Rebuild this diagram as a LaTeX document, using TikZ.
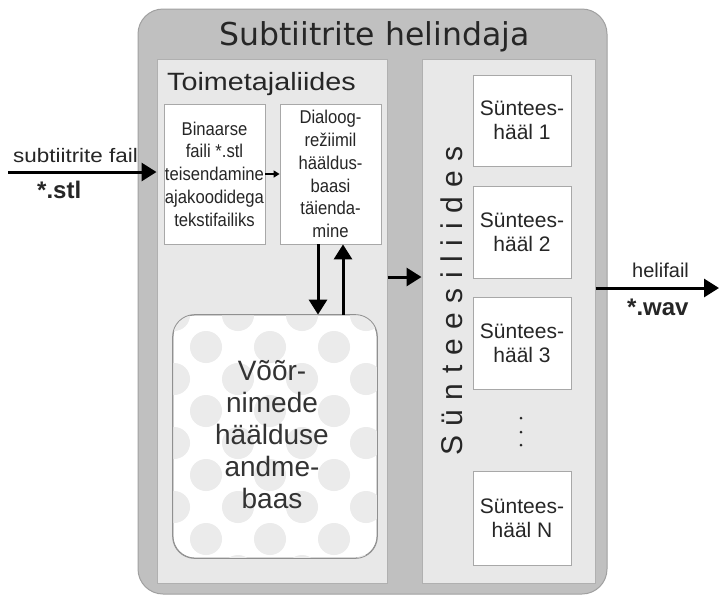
\documentclass[tikz,border=0pt]{standalone}
\usepackage{fontspec}
\setmainfont{Liberation Sans}
\newfontfamily\widefont[FakeStretch=1.15]{Liberation Sans}
\newfontfamily\narrowfont[FakeStretch=0.9]{Liberation Sans}
\newfontfamily\titlefont{DejaVu Sans}
\newfontfamily\spacedfont[LetterSpace=32]{Liberation Sans}
\usetikzlibrary{arrows.meta}
\definecolor{outerfill}{HTML}{C0C0C0}
\definecolor{outerline}{HTML}{A0A0A0}
\definecolor{panelfill}{HTML}{E8E8E8}
\definecolor{panelline}{HTML}{B0B0B0}
\definecolor{boxline}{HTML}{A8A8A8}
\definecolor{dotcol}{HTML}{EBEBEB}
\definecolor{dbline}{HTML}{909090}
\definecolor{txt}{HTML}{262626}
\tikzset{
  outerbox/.style={draw=outerline, line width=1pt, fill=outerfill, rounded corners=25pt, inner sep=0pt},
  panel/.style={draw=panelline, line width=1pt, fill=panelfill, inner sep=0pt},
  wbox/.style={draw=boxline, line width=0.8pt, fill=white, inner sep=0pt, align=center, text=txt,
    font=\narrowfont\fontsize{18.5}{22.8}\selectfont},
  sbox/.style={draw=boxline, line width=0.8pt, fill=white, inner sep=0pt, align=center, text=txt,
    minimum width=98pt, font=\fontsize{21}{24}\selectfont},
  dbbox/.style={draw=dbline, line width=0.8pt, fill=white, rounded corners=22pt, inner sep=0pt},
  bigarrow/.style={line width=3pt, -{Triangle[length=15pt, width=18pt]}},
  smallarrow/.style={line width=1.5pt, -{Triangle[length=6pt, width=7pt]}},
  lbl/.style={inner sep=0pt, text=txt}
}
\begin{document}
\begin{tikzpicture}[x=1pt,y=-1pt]
\useasboundingbox (0,0) rectangle (719,595);
\fill[white] (0,0) rectangle (719,595);
% outer
\node[outerbox, minimum width=469pt, minimum height=585pt] (outer) at (372.5,301.5) {};
\node[lbl, anchor=base, text=txt] (title) at (374.5,45) {\titlefont\fontsize{31.5}{36}\selectfont Subtiitrite helindaja};
% panels
\node[panel, minimum width=230pt, minimum height=524pt] (lp) at (272,321) {};
\node[panel, minimum width=173pt, minimum height=524pt] (rp) at (508.5,321) {};
\node[lbl, anchor=base] (lptitle) at (261.5,90) {\widefont\fontsize{25}{30}\selectfont Toimetajaliides};
% editor boxes
\node[wbox, minimum width=101pt, minimum height=140pt] (b1) at (214.5,174) {Binaarse\\faili *.stl\\teisendamine\\ajakoodidega\\tekstifailiks};
\node[wbox, minimum width=101pt, minimum height=140pt] (b2) at (330.5,174) {Dialoog-\\režiimil\\hääldus-\\baasi\\täienda-\\mine};
% database
\node[dbbox, minimum width=204pt, minimum height=243pt] (db) at (275,436.5) {};
\begin{scope}
  \clip[rounded corners=22pt] (db.north west) rectangle (db.south east);
  \foreach \yy in {347,411,475,539} {
    \foreach \xx in {142,206,270,334,398} {
      \fill[dotcol] (\xx,\yy) circle (16pt);
    }
  }
  \foreach \yy in {315,379,443,507,571} {
    \foreach \xx in {174,238,302,366} {
      \fill[dotcol] (\xx,\yy) circle (16pt);
    }
  }
\end{scope}
\draw[dbline, line width=0.8pt, rounded corners=22pt] (db.north west) rectangle (db.south east);
\node[lbl, align=center, text=black!80, font=\fontsize{28}{32}\selectfont] (dbtext) at (272,435) {Võõr-\\nimede\\häälduse\\andme-\\baas};
% synthesis boxes
\node[sbox, minimum height=91pt] (s1) at (522,120.5) {Süntees-\\hääl 1};
\node[sbox, minimum height=92pt] (s2) at (522,232) {Süntees-\\hääl 2};
\node[sbox, minimum height=92pt] (s3) at (522,343) {Süntees-\\hääl 3};
\node[sbox, minimum height=94pt] (sN) at (522,518) {Süntees-\\hääl N};
\foreach \yy [count=\i] in {418,432,445} {
  \fill[txt] (521,\yy) circle (1.5pt) coordinate (dot\i);
}
\node[lbl, rotate=90] (rptitle) at (452,301) {\spacedfont\fontsize{30}{30}\selectfont Sünteesiliides};
% labels
\node[lbl, anchor=base west] (infile) at (13,162) {\widefont\fontsize{19.5}{22}\selectfont subtiitrite fail};
\node[lbl, anchor=base west] (inext) at (37,198) {\fontsize{24}{26}\selectfont\bfseries *.stl};
\node[lbl, anchor=base west] (outfile) at (632,277) {\fontsize{20}{22}\selectfont helifail};
\node[lbl, anchor=base west] (outext) at (627,315) {\fontsize{24}{26}\selectfont\bfseries *.wav};
% arrows
\coordinate (in) at (8,172);
\coordinate (xd) at (318,0);
\coordinate (xu) at (343,0);
\coordinate (ym) at (0,277);
\coordinate (out) at (719,288);
\draw[bigarrow] (in) -- (in -| lp.west);
\draw[smallarrow] (b1.east) -- (b2.west);
\draw[bigarrow] (b2.south -| xd) -- (db.north -| xd);
\draw[bigarrow] (db.north -| xu) -- (b2.south -| xu);
\draw[bigarrow] (lp.east |- ym) -- (rp.west |- ym);
\draw[bigarrow] (rp.east |- out) -- (out);
\end{tikzpicture}
\end{document}
